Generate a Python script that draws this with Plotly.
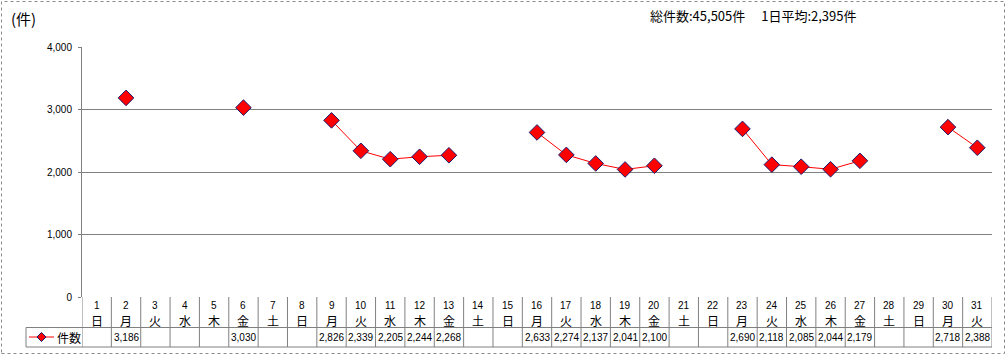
import plotly.graph_objects as go

days = list(range(1, 32))
weekdays = ["日", "月", "火", "水", "木", "金", "土"] * 5
weekdays = weekdays[:31]
counts = [None, 3186, None, None, None, 3030, None, None, 2826, 2339, 2205, 2244, 2268,
          None, None, 2633, 2274, 2137, 2041, 2100, None, None, 2690, 2118, 2085, 2044,
          2179, None, None, 2718, 2388]
y_ticks = [0, 1000, 2000, 3000, 4000]
series_name = "件数"
title_unit = "(件)"
summary = "総件数:45,505件　 1日平均:2,395件"

JP = "Noto Sans CJK JP"
NUM = "Liberation Sans"

L, R, T, B = 82, 14, 47, 58
W, H = 1006, 355
pw = W - L - R
ph = H - T - B

def py(pix):  # pixel y -> paper y
    return (T + ph - pix) / ph

def px(pix):
    return (pix - L) / pw

fig = go.Figure()
fig.add_trace(go.Scatter(
    x=days, y=counts, mode="lines+markers", name=series_name,
    line=dict(color="#ff0000", width=1),
    marker=dict(symbol="diamond", size=12, color="#ff0000",
                line=dict(color="#1a1a6e", width=1)),
    connectgaps=False, showlegend=False, cliponaxis=False,
))

shapes = []
grey = "#808080"
# column borders of table
for i in range(32):
    shapes.append(dict(type="line", xref="x", yref="paper", x0=i + 0.5, x1=i + 0.5,
                       y0=py(297), y1=py(347), line=dict(color=grey, width=1)))
# horizontal lines of table
shapes.append(dict(type="line", xref="paper", yref="paper", x0=px(26), x1=1,
                   y0=py(327.5), y1=py(327.5), line=dict(color=grey, width=1)))
shapes.append(dict(type="line", xref="paper", yref="paper", x0=px(26), x1=1,
                   y0=py(347), y1=py(347), line=dict(color=grey, width=1)))
shapes.append(dict(type="line", xref="paper", yref="paper", x0=px(26), x1=px(26),
                   y0=py(327.5), y1=py(347), line=dict(color=grey, width=1)))
# legend key in table
shapes.append(dict(type="line", xref="paper", yref="paper", x0=px(29), x1=px(54),
                   y0=py(337), y1=py(337), line=dict(color="#ff0000", width=1)))
cx, cy, r = 41.5, 337, 4.5
path = (f"M {px(cx - r)},{py(cy)} L {px(cx)},{py(cy - r)} "
        f"L {px(cx + r)},{py(cy)} L {px(cx)},{py(cy + r)} Z")
shapes.append(dict(type="path", xref="paper", yref="paper", path=path,
                   fillcolor="#ff0000", line=dict(color="#1a1a6e", width=1)))
# outer border
shapes.append(dict(type="rect", xref="paper", yref="paper", x0=px(1.5), x1=px(1004.5),
                   y0=py(353.5), y1=py(1.5), line=dict(color="#8a8a8a", width=1, dash="dot"),
                   layer="below"))

ann = []
for d, wd, c in zip(days, weekdays, counts):
    ann.append(dict(x=d, y=py(305), xref="x", yref="paper", text=str(d), showarrow=False,
                    yanchor="middle", font=dict(family=NUM, size=10, color="#000")))
    ann.append(dict(x=d, y=py(320.5), xref="x", yref="paper", text=wd, showarrow=False,
                    yanchor="middle", font=dict(family=JP, size=12, color="#000")))
    if c is not None:
        ann.append(dict(x=d, y=py(337.5), xref="x", yref="paper", text=f"{c:,}", showarrow=False,
                        yanchor="middle", font=dict(family=NUM, size=10, color="#000")))
ann.append(dict(x=px(55), y=py(337), xref="paper", yref="paper", text=series_name,
                showarrow=False, xanchor="left", yanchor="middle",
                font=dict(family=JP, size=12, color="#000")))
ann.append(dict(x=px(9), y=py(19), xref="paper", yref="paper", text=title_unit,
                showarrow=False, xanchor="left", yanchor="middle",
                font=dict(family=JP, size=15, color="#000")))
ann.append(dict(x=px(648), y=py(15), xref="paper", yref="paper", text=summary,
                showarrow=False, xanchor="left", yanchor="middle",
                font=dict(family=JP, size=13, color="#000")))

fig.update_layout(
    width=W, height=H, margin=dict(l=L, r=R, t=T, b=B),
    paper_bgcolor="white", plot_bgcolor="white",
    shapes=shapes, annotations=ann,
    xaxis=dict(range=[0.5, 31.5], showticklabels=False, showgrid=False, zeroline=False,
               ticks="", showline=False, fixedrange=True),
    yaxis=dict(range=[0, 4000], tickvals=y_ticks, ticktext=[f"{v:,}" for v in y_ticks],
               showgrid=True, gridcolor=grey, gridwidth=1, zeroline=False,
               showline=True, linecolor=grey, linewidth=1, ticks="outside", ticklen=3,
               tickcolor=grey, tickfont=dict(family=NUM, size=10, color="#000"),
               ticklabelstandoff=4),
)

fig.write_html("out.html")
